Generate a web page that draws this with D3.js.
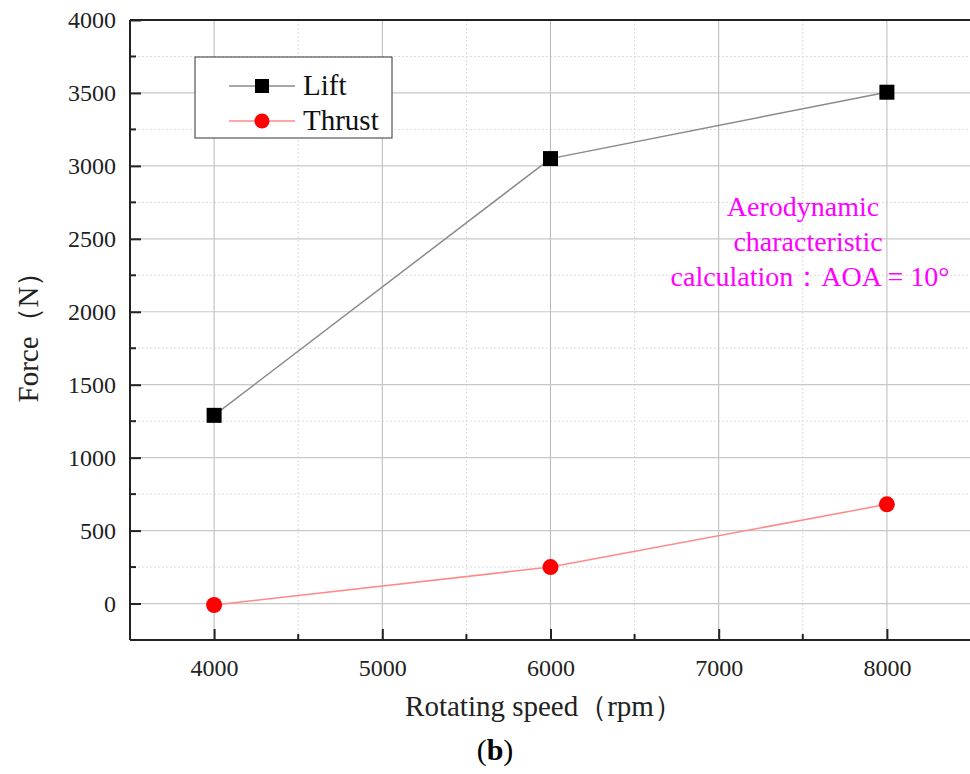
<!DOCTYPE html>
<html><head><meta charset="utf-8">
<script src="https://cdn.jsdelivr.net/npm/d3@7"></script>
<style>body{margin:0;background:#fff}svg{display:block}</style>
</head><body>
<svg id="c" width="970" height="774"></svg>
<script>
const speeds = [4000, 6000, 8000];
const lift = [1290, 3050, 3505];
const thrust = [-10, 250, 680];
const xTicks = [4000, 5000, 6000, 7000, 8000];
const yTicks = [0, 500, 1000, 1500, 2000, 2500, 3000, 3500, 4000];
const xMinor = [3500, 4500, 5500, 6500, 7500, 8500];
const yMinor = [-250, 250, 750, 1250, 1750, 2250, 2750, 3250, 3750];
const seriesNames = ["Lift", "Thrust"];
const noteLines = ["Aerodynamic", "characteristic", "calculation：AOA = 10°"];

const svg = d3.select("#c");
const font = "'Liberation Serif','Times New Roman',serif";
const L = 130, R = 971, T = 20, B = 640;
const x = d3.scaleLinear().domain([3500, 8500]).range([L, R]);
const y = d3.scaleLinear().domain([-250, 4000]).range([B, T]);

// minor grid
const g = svg.append("g");
g.selectAll(".vm").data(xMinor).join("line")
  .attr("x1", d => x(d)).attr("x2", d => x(d)).attr("y1", T).attr("y2", B)
  .attr("stroke", "#dcdcdc").attr("stroke-width", 1).attr("stroke-dasharray", "2,2");
g.selectAll(".hm").data(yMinor).join("line")
  .attr("y1", d => y(d)).attr("y2", d => y(d)).attr("x1", L).attr("x2", R)
  .attr("stroke", "#dcdcdc").attr("stroke-width", 1).attr("stroke-dasharray", "2,2");
// major grid
g.selectAll(".vM").data(xTicks).join("line")
  .attr("x1", d => x(d)).attr("x2", d => x(d)).attr("y1", T).attr("y2", B)
  .attr("stroke", "#b8b8b8").attr("stroke-width", 1);
g.selectAll(".hM").data(yTicks).join("line")
  .attr("y1", d => y(d)).attr("y2", d => y(d)).attr("x1", L).attr("x2", R)
  .attr("stroke", "#c8c8c8").attr("stroke-width", 1.2);

// axes
const xAxis = svg.append("g").attr("transform", `translate(0,${B})`)
  .call(d3.axisBottom(x).tickValues(xTicks).tickSize(-11).tickPadding(19).tickFormat(d3.format("d")));
const yAxis = svg.append("g").attr("transform", `translate(${L},0)`)
  .call(d3.axisLeft(y).tickValues(yTicks).tickSize(-11).tickPadding(14).tickFormat(d3.format("d")));
[xAxis, yAxis].forEach(a => {
  a.attr("font-family", font).attr("font-size", 24);
  a.select(".domain").attr("stroke", "#222").attr("stroke-width", 2);
  a.selectAll(".tick line").attr("stroke", "#222").attr("stroke-width", 2);
  a.selectAll("text").attr("font-family", font).attr("font-size", 24).attr("fill", "#222");
});
xAxis.select(".domain").attr("d", `M${L},0H${R}`);
yAxis.select(".domain").attr("d", `M0,${B}V${T}`);
// minor ticks
svg.append("g").selectAll("line").data(xMinor.filter(d => d > 3500 && d < 8500)).join("line")
  .attr("x1", d => x(d)).attr("x2", d => x(d)).attr("y1", B).attr("y2", B - 6)
  .attr("stroke", "#222").attr("stroke-width", 2);
svg.append("g").selectAll("line").data(yMinor.filter(d => d > -250)).join("line")
  .attr("y1", d => y(d)).attr("y2", d => y(d)).attr("x1", L).attr("x2", L + 6)
  .attr("stroke", "#222").attr("stroke-width", 2);
// top border
svg.append("line").attr("x1", L).attr("x2", R).attr("y1", T).attr("y2", T)
  .attr("stroke", "#222").attr("stroke-width", 2);

// series
const line = d3.line().x(d => x(d[0])).y(d => y(d[1]));
const liftPts = speeds.map((s, i) => [s, lift[i]]);
const thrustPts = speeds.map((s, i) => [s, thrust[i]]);
svg.append("path").datum(liftPts).attr("d", line).attr("fill", "none").attr("stroke", "#8a8a8a").attr("stroke-width", 1.5);
svg.append("path").datum(thrustPts).attr("d", line).attr("fill", "none").attr("stroke", "#ff8a8a").attr("stroke-width", 1.5);
svg.append("g").selectAll("rect").data(liftPts).join("rect")
  .attr("x", d => x(d[0]) - 7.5).attr("y", d => y(d[1]) - 7.5).attr("width", 15).attr("height", 15).attr("fill", "#000");
svg.append("g").selectAll("circle").data(thrustPts).join("circle")
  .attr("cx", d => x(d[0])).attr("cy", d => y(d[1])).attr("r", 8).attr("fill", "#ff0000");

// legend
const lg = svg.append("g");
lg.append("rect").attr("x", 195).attr("y", 57).attr("width", 197).attr("height", 81)
  .attr("fill", "#fff").attr("stroke", "#333").attr("stroke-width", 1);
seriesNames.forEach((n, i) => {
  const yy = 86 + i * 35;
  lg.append("line").attr("x1", 229).attr("x2", 295).attr("y1", yy).attr("y2", yy)
    .attr("stroke", i === 0 ? "#8a8a8a" : "#ff8a8a").attr("stroke-width", 1.5);
  if (i === 0) lg.append("rect").attr("x", 255).attr("y", yy - 7).attr("width", 14).attr("height", 14).attr("fill", "#000");
  else lg.append("circle").attr("cx", 262).attr("cy", yy).attr("r", 7.5).attr("fill", "#ff0000");
  lg.append("text").attr("x", 303).attr("y", yy + 9).text(n)
    .attr("font-family", font).attr("font-size", 29).attr("fill", "#111");
});

// annotation
svg.append("g").selectAll("text").data(noteLines).join("text")
  .attr("x", (d, i) => [803, 808, 810][i])
  .attr("y", (d, i) => 216 + i * 35)
  .attr("text-anchor", "middle").attr("font-family", font).attr("font-size", 28).attr("fill", "#ff00ff")
  .text(d => d);

// axis titles
svg.append("text").attr("x", 544).attr("y", 716).attr("text-anchor", "middle")
  .attr("font-family", font).attr("font-size", 29).attr("fill", "#222").text("Rotating speed（rpm）");
svg.append("text").attr("transform", "translate(38,330) rotate(-90)").attr("text-anchor", "middle")
  .attr("font-family", font).attr("font-size", 29).attr("fill", "#222").text("Force（N）");
const cap = svg.append("text").attr("x", 495).attr("y", 760).attr("text-anchor", "middle")
  .attr("font-family", font).attr("font-size", 30).attr("fill", "#000");
cap.append("tspan").text("(");
cap.append("tspan").attr("font-weight", "bold").text("b");
cap.append("tspan").text(")");
</script>
</body></html>
